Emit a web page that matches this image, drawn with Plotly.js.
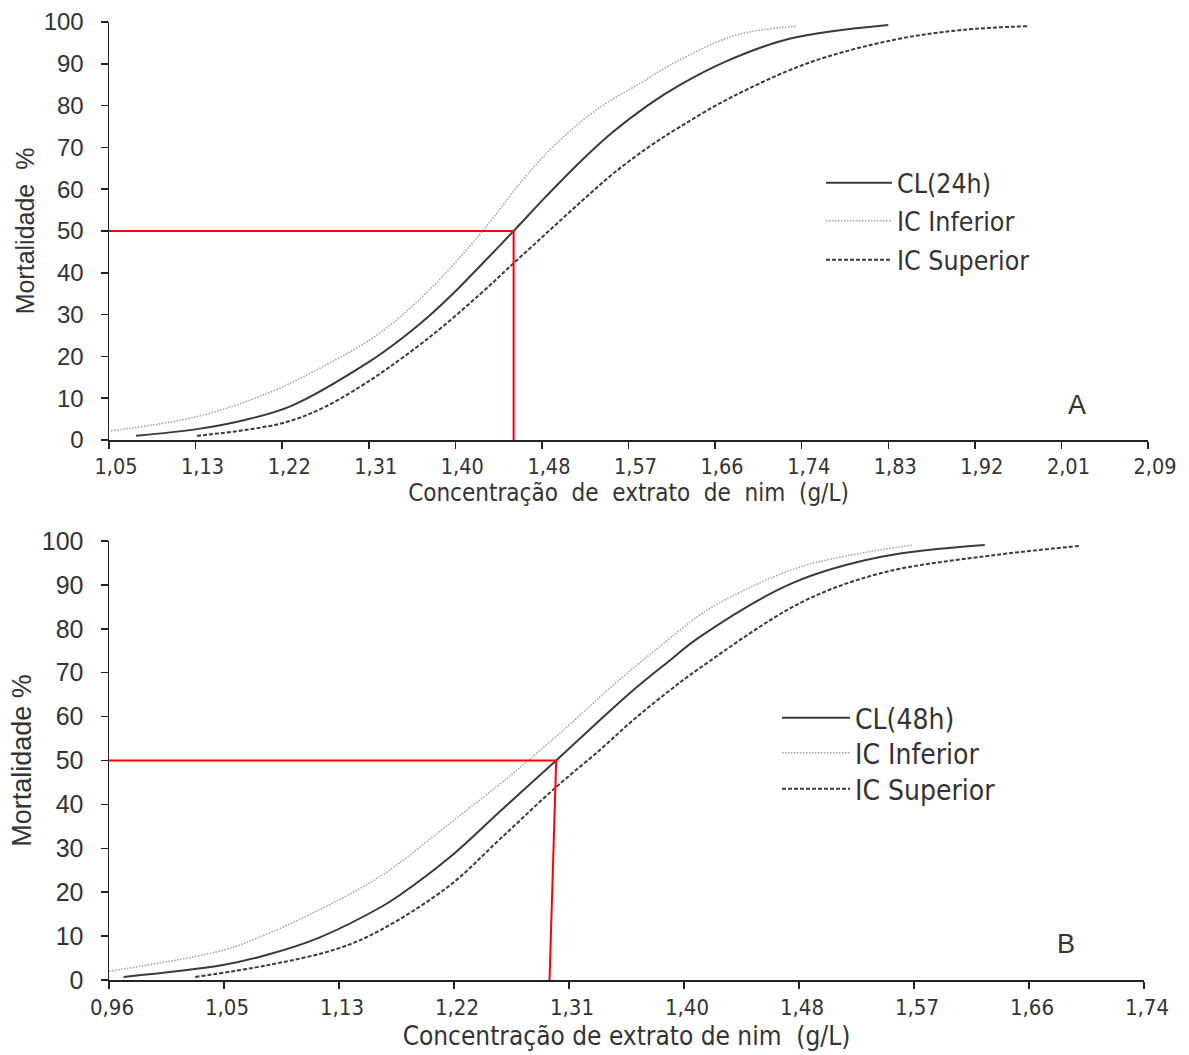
<!DOCTYPE html>
<html>
<head>
<meta charset="utf-8">
<script src="https://cdn.plot.ly/plotly-3.0.1.min.js"></script>
<style>html,body{margin:0;padding:0;background:#fff;}#chart{width:1189px;height:1055px;}</style>
</head>
<body>
<div id="chart"></div>
<script>
// ---- Panel A (24h) ----
const ticksA = ['1,05','1,13','1,22','1,31','1,40','1,48','1,57','1,66','1,74','1,83','1,92','2,01','2,09'];
const rangeA = [1.05, 2.09];
const cl24X = [1.077, 1.138, 1.186, 1.232, 1.309, 1.343, 1.371, 1.396, 1.421, 1.455, 1.488, 1.521, 1.554, 1.589, 1.622, 1.666, 1.731, 1.830];
const cl24Y = [1.0, 2.6, 4.8, 8.1, 18.5, 24.3, 29.8, 35.4, 41.5, 50.0, 58.4, 66.4, 73.6, 80.0, 85.0, 90.4, 96.0, 99.3];
const infAX = [1.052, 1.138, 1.209, 1.266, 1.321, 1.371, 1.424, 1.464, 1.498, 1.538, 1.582, 1.617, 1.678, 1.739];
const infAY = [2.2, 5.6, 11.2, 17.8, 25.6, 36.0, 50.0, 62.2, 71.0, 79.0, 85.4, 90.4, 96.9, 99.0];
const supAX = [1.138, 1.223, 1.266, 1.309, 1.321, 1.371, 1.421, 1.455, 1.488, 1.521, 1.554, 1.589, 1.622, 1.673, 1.750, 1.835, 1.904, 1.969];
const supAY = [1.0, 4.0, 7.9, 13.9, 15.8, 24.6, 34.8, 42.3, 49.5, 56.7, 63.6, 69.9, 75.0, 82.0, 90.2, 95.7, 98.1, 99.0];
const lc50A = [1.455, 1.455]; // x at 50% and at 0%

// ---- Panel B (48h) ----
const ticksB = ['0,96','1,05','1,13','1,22','1,31','1,40','1,48','1,57','1,66','1,74'];
const rangeB = [0.96, 1.74];
const cl48X = [0.971, 1.046, 1.080, 1.118, 1.166, 1.179, 1.217, 1.255, 1.297, 1.330, 1.355, 1.381, 1.405, 1.475, 1.542, 1.620];
const cl48Y = [0.7, 3.4, 5.8, 9.6, 16.8, 19.3, 28.0, 38.5, 50.0, 59.2, 66.0, 72.4, 78.1, 90.4, 96.4, 99.1];
const infBX = [0.960, 1.046, 1.080, 1.133, 1.166, 1.179, 1.217, 1.252, 1.276, 1.305, 1.330, 1.355, 1.381, 1.405, 1.420, 1.481, 1.566];
const infBY = [2.0, 6.8, 10.6, 18.2, 23.9, 26.7, 35.7, 44.0, 50.0, 57.6, 64.5, 71.0, 77.4, 83.1, 85.9, 94.1, 99.1];
const supBX = [1.025, 1.080, 1.133, 1.166, 1.217, 1.255, 1.296, 1.330, 1.355, 1.381, 1.405, 1.481, 1.542, 1.617, 1.692];
const supBY = [0.7, 3.4, 7.2, 11.6, 21.6, 32.2, 43.7, 52.4, 59.2, 65.6, 71.0, 85.9, 92.7, 96.4, 98.9];
const lc50B = [1.297, 1.292];

const names = ['IC Inferior', 'IC Superior'];

function evenTicks(range, n) {
  const out = [];
  for (let i = 0; i < n; i++) out.push(range[0] + (range[1] - range[0]) * i / (n - 1));
  return out;
}

const narrow = 'DejaVu Sans Condensed, Liberation Sans Narrow, Arial Narrow, sans-serif';
const regular = 'Liberation Sans, Arial, sans-serif';
const txt = '#333333';

const solidLine = {color: '#3a3a3a', width: 2, shape: 'spline', smoothing: 1};
const dotLine = {color: '#a0a0a0', width: 1.5, dash: '1.5px,1.5px', shape: 'spline', smoothing: 1};
const dashLine = {color: '#3a3a3a', width: 2, dash: '4px,2px', shape: 'spline', smoothing: 1};

const traces = [
  {x: cl24X, y: cl24Y, name: 'CL(24h)', mode: 'lines', line: solidLine, xaxis: 'x', yaxis: 'y', legend: 'legend'},
  {x: infAX, y: infAY, name: names[0], mode: 'lines', line: dotLine, xaxis: 'x', yaxis: 'y', legend: 'legend2'},
  {x: supAX, y: supAY, name: names[1], mode: 'lines', line: dashLine, xaxis: 'x', yaxis: 'y', legend: 'legend3'},
  {x: [rangeA[0], lc50A[0], lc50A[1]], y: [50, 50, 0], mode: 'lines', line: {color: '#ff0000', width: 2}, xaxis: 'x', yaxis: 'y', showlegend: false, hoverinfo: 'skip'},
  {x: cl48X, y: cl48Y, name: 'CL(48h)', mode: 'lines', line: solidLine, xaxis: 'x2', yaxis: 'y2', legend: 'legend4'},
  {x: infBX, y: infBY, name: names[0], mode: 'lines', line: dotLine, xaxis: 'x2', yaxis: 'y2', legend: 'legend5'},
  {x: supBX, y: supBY, name: names[1], mode: 'lines', line: dashLine, xaxis: 'x2', yaxis: 'y2', legend: 'legend6'},
  {x: [rangeB[0], lc50B[0], lc50B[1]], y: [50, 50, 0], mode: 'lines', line: {color: '#ff0000', width: 2}, xaxis: 'x2', yaxis: 'y2', showlegend: false, hoverinfo: 'skip'}
];

const W = 1189, H = 1055;
function xaxisCfg(range, labels, domain, anchor, title, tsize, fsize, shift, standoff) {
  return {
    domain: domain, anchor: anchor, range: range, tickmode: 'array', tickvals: evenTicks(range, labels.length), ticktext: labels,
    showline: true, linecolor: '#222', linewidth: 1.5, ticks: 'outside', ticklen: 7, tickcolor: '#222', tickwidth: 1.5,
    ticklabelshift: shift,
    showgrid: false, zeroline: false, tickfont: {family: narrow, size: tsize, color: txt},
    title: {text: title, font: {family: narrow, size: fsize, color: txt}, standoff: standoff}, fixedrange: true
  };
}
function yaxisCfg(domain, anchor, title, tsize, fsize) {
  return {
    domain: domain, anchor: anchor, range: [0, 100], tickmode: 'linear', tick0: 0, dtick: 10,
    showline: true, linecolor: '#222', linewidth: 1.5, ticks: 'outside', ticklen: 7, tickcolor: '#222', tickwidth: 1.5,
    ticklabelstandoff: 12,
    showgrid: false, zeroline: false, tickfont: {family: regular, size: tsize, color: txt},
    title: {text: title, font: {family: regular, size: fsize, color: txt}, standoff: 2}, fixedrange: true
  };
}
function legendAt(px, py, size, iw) {
  return {x: px / W, y: 1 - py / H, xanchor: 'left', yanchor: 'middle', bgcolor: 'rgba(0,0,0,0)',
          font: {family: narrow, size: size, color: txt}, itemwidth: iw};
}

const layout = {
  width: W, height: H,
  margin: {l: 0, r: 0, t: 0, b: 0},
  paper_bgcolor: '#fff', plot_bgcolor: '#fff',
  showlegend: true,
  xaxis: xaxisCfg(rangeA, ticksA, [109 / W, 1148 / W], 'y', 'Concentração  de  extrato  de  nim  (g/L)', 21.5, 24, 7, 4),
  yaxis: yaxisCfg([1 - 440 / H, 1 - 22 / H], 'x', 'Mortalidade  %', 24, 25),
  xaxis2: xaxisCfg(rangeB, ticksB, [109 / W, 1144 / W], 'y2', 'Concentração de extrato de nim  (g/L)', 22, 26, 3, 8),
  yaxis2: yaxisCfg([1 - 980 / H, 1 - 541 / H], 'x2', 'Mortalidade %', 25, 27),
  legend: legendAt(821, 183, 26.5, 66),
  legend2: legendAt(821, 221, 26.5, 66),
  legend3: legendAt(821, 260, 26.5, 66),
  legend4: legendAt(777, 718, 28, 68),
  legend5: legendAt(777, 753, 28, 68),
  legend6: legendAt(777, 789, 28, 68),
  annotations: [
    {text: 'A', xref: 'paper', yref: 'paper', x: 1077 / W, y: 1 - 405 / H, showarrow: false, xanchor: 'center', yanchor: 'middle',
     font: {family: regular, size: 27, color: txt}},
    {text: 'B', xref: 'paper', yref: 'paper', x: 1066 / W, y: 1 - 944 / H, showarrow: false, xanchor: 'center', yanchor: 'middle',
     font: {family: regular, size: 27, color: txt}}
  ]
};

Plotly.newPlot('chart', traces, layout, {displayModeBar: false, staticPlot: true});
</script>
</body>
</html>
